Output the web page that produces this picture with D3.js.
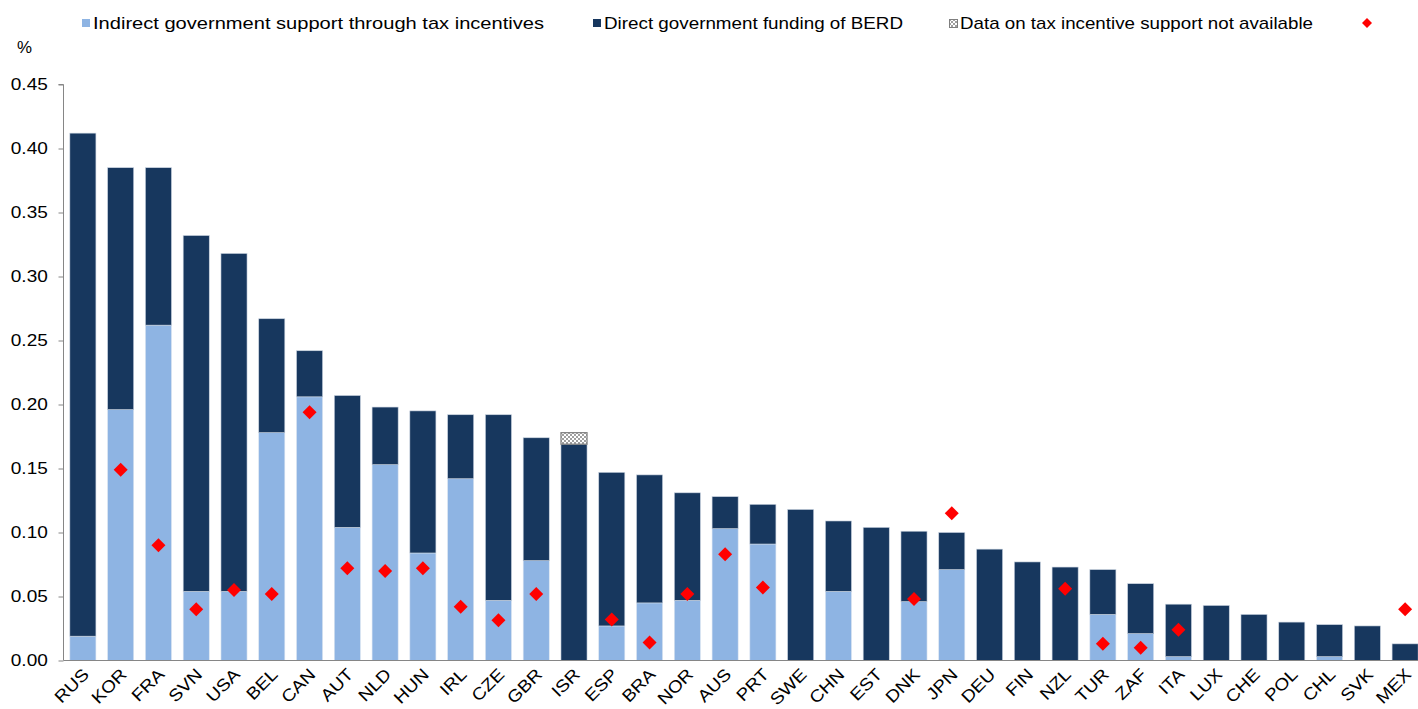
<!DOCTYPE html>
<meta charset="utf-8">
<style>
body { margin: 0; background: #fff; }
text { font-family: "Liberation Sans", Arial, sans-serif; fill: #000; }
.axis path, .axis line { stroke: #868686; }
</style>
<body>
<script src="https://d3js.org/d3.v7.min.js"></script>
<script>

var countries = ["RUS","KOR","FRA","SVN","USA","BEL","CAN","AUT","NLD","HUN","IRL","CZE","GBR","ISR","ESP","BRA","NOR","AUS","PRT","SWE","CHN","EST","DNK","JPN","DEU","FIN","NZL","TUR","ZAF","ITA","LUX","CHE","POL","CHL","SVK","MEX"];

// indirect support through tax incentives
var indirect = [0.019,0.196,0.262,0.054,0.054,0.178,0.206,0.104,0.153,0.084,0.142,0.047,0.078,0,0.027,0.045,0.047,0.103,0.091,0,0.054,0,0.046,0.071,0,0,0,0.036,0.021,0.003,0,0,0,0.003,0,0];

// direct government funding of BERD
var direct = [0.393,0.189,0.123,0.278,0.264,0.089,0.036,0.103,0.045,0.111,0.050,0.145,0.096,0.169,0.120,0.100,0.084,0.025,0.031,0.118,0.055,0.104,0.055,0.029,0.087,0.077,0.073,0.035,0.039,0.041,0.043,0.036,0.030,0.025,0.027,0.013];

// tax incentive data not available
var notAvail = [0,0,0,0,0,0,0,0,0,0,0,0,0,0.009,0,0,0,0,0,0,0,0,0,0,0,0,0,0,0,0,0,0,0,0,0,0];

// red diamonds
var marker = [null,0.149,0.090,0.040,0.055,0.052,0.194,0.072,0.070,0.072,0.042,0.0315,0.052,null,0.032,0.014,0.052,0.083,0.057,null,null,null,0.048,0.115,null,null,0.056,0.013,0.010,0.024,null,null,null,null,null,0.040];

var yTicks = [0, 0.05, 0.10, 0.15, 0.20, 0.25, 0.30, 0.35, 0.40, 0.45];

var legendLabels = ["Indirect government support through tax incentives", "Direct government funding of BERD", "Data on tax incentive support not available", ""];

var width = 1418, height = 709;
var lightBlue = "#8EB4E3", darkBlue = "#17375E";

var svg = d3.select("body").append("svg")
    .attr("width", width)
    .attr("height", height);

var defs = svg.append("defs");
var pat = defs.append("pattern")
    .attr("id", "hatch")
    .attr("width", 4).attr("height", 4)
    .attr("patternUnits", "userSpaceOnUse");
pat.append("rect").attr("width", 4).attr("height", 4).attr("fill", "#fff");
pat.append("rect").attr("width", 2).attr("height", 2).attr("fill", "#a0a0a0");
pat.append("rect").attr("x", 2).attr("y", 2).attr("width", 2).attr("height", 2).attr("fill", "#a0a0a0");

var x = d3.scaleBand()
    .domain(countries)
    .range([64, 1424])
    .paddingInner(0.31)
    .paddingOuter(0.155);

var y = d3.scaleLinear()
    .domain([0, 0.45])
    .range([660.5, 84.5]);

var rows = countries.map(function(c, i) {
  return {c: c, ind: indirect[i], dir: direct[i], na: notAvail[i], m: marker[i]};
});

var stack = d3.stack().keys(["ind", "dir", "na"])(rows);
var fills = {ind: lightBlue, dir: darkBlue, na: "url(#hatch)"};
var strokes = {ind: "#dbe5f1", dir: "#c9d3df", na: "#7f7f7f"};

// bars
svg.append("g").selectAll("g")
  .data(stack)
  .join("g")
    .attr("fill", function(s) { return fills[s.key]; })
    .attr("stroke", function(s) { return strokes[s.key]; })
    .attr("stroke-width", function(s) { return s.key == "na" ? 1.2 : 0.6; })
  .selectAll("rect")
  .data(function(s) { return s.filter(function(d) { return d[1] - d[0] > 0; }); })
  .join("rect")
    .attr("x", function(d) { return x(d.data.c); })
    .attr("width", x.bandwidth())
    .attr("y", function(d) { return y(d[1]); })
    .attr("height", function(d) { return y(d[0]) - y(d[1]); });

// y axis
var yAxis = svg.append("g")
    .attr("class", "axis")
    .attr("transform", "translate(63.5,0)")
    .call(d3.axisLeft(y).tickValues(yTicks).tickFormat(d3.format(".2f")).tickSize(5).tickPadding(9));
yAxis.select(".domain").attr("d", "M-5," + y(0.45) + "H0V" + y(0));
yAxis.selectAll("text")
    .style("font-size", "17px")
    .attr("transform", "scale(1.12,1)");

// x axis
var xAxis = svg.append("g")
    .attr("class", "axis")
    .attr("transform", "translate(0," + y(0) + ")")
    .call(d3.axisBottom(x).tickSize(0).tickPadding(0));
xAxis.select(".domain").attr("d", "M63.5,0H1418");
xAxis.selectAll("text")
    .style("font-size", "17px")
    .attr("text-anchor", "end")
    .attr("dy", null)
    .attr("transform", "translate(7,15) rotate(-45) scale(1.12,1)");

// diamonds
svg.append("g").selectAll("path")
  .data(rows.filter(function(d) { return d.m != null; }))
  .join("path")
    .attr("d", "M0,-7L7,0L0,7L-7,0Z")
    .attr("fill", "#ff0000")
    .attr("transform", function(d) { return "translate(" + (x(d.c) + x.bandwidth() / 2) + "," + y(d.m) + ")"; });

// % label
svg.append("text")
    .attr("x", 17).attr("y", 53)
    .style("font-size", "17px")
    .attr("textLength", 15)
    .attr("lengthAdjust", "spacingAndGlyphs")
    .text("%");

// legend
var legX = [82, 593, 949, 1362];
var legW = [451, 299, 353, 0];
var leg = svg.append("g").selectAll("g")
  .data(legendLabels)
  .join("g")
    .attr("transform", function(d, i) { return "translate(" + legX[i] + ",23)"; });

leg.each(function(d, i) {
  var g = d3.select(this);
  if (i == 0) g.append("rect").attr("x", 0).attr("y", -4).attr("width", 8).attr("height", 8).attr("fill", lightBlue);
  if (i == 1) g.append("rect").attr("x", 0).attr("y", -4).attr("width", 8).attr("height", 8).attr("fill", darkBlue);
  if (i == 2) g.append("rect").attr("x", 0.5).attr("y", -3.5).attr("width", 8).attr("height", 8).attr("fill", "url(#hatch)").attr("stroke", "#7f7f7f");
  if (i == 3) g.append("path").attr("d", "M5,-5L10,0L5,5L0,0Z").attr("fill", "#ff0000");
  if (d) {
    g.append("text")
      .attr("x", 11).attr("y", 6)
      .style("font-size", "17px")
      .attr("textLength", legW[i])
      .attr("lengthAdjust", "spacingAndGlyphs")
      .text(d);
  }
});

</script>
</body>
